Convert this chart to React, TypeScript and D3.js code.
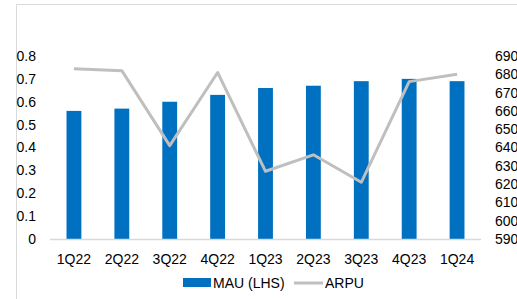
import React from "react";
import * as d3 from "d3";

const quarters = ["1Q22", "2Q22", "3Q22", "4Q22", "1Q23", "2Q23", "3Q23", "4Q23", "1Q24"];
const mau = [0.56, 0.57, 0.6, 0.63, 0.66, 0.67, 0.69, 0.7, 0.69];
const arpu = [683, 682, 641, 681, 627, 636, 621, 676, 680];
const leftTicks = [0, 0.1, 0.2, 0.3, 0.4, 0.5, 0.6, 0.7, 0.8];
const rightTicks = [590, 600, 610, 620, 630, 640, 650, 660, 670, 680, 690];

const font = "'Liberation Sans Narrow', 'Arial Narrow', 'Liberation Sans', sans-serif";

export default function App() {
  const width = 517;
  const height = 299;
  const margin = { top: 56, right: 36, bottom: 60, left: 50 };
  const x0 = margin.left;
  const x1 = width - margin.right;
  const yTop = margin.top;
  const yBot = height - margin.bottom;

  const x = d3.scaleBand<string>().domain(quarters).range([x0, x1]).paddingInner(0.69).paddingOuter(0.345);
  const yL = d3.scaleLinear().domain([0, 0.8]).range([yBot, yTop]);
  const yR = d3.scaleLinear().domain([590, 690]).range([yBot, yTop]);

  const line = d3
    .line<number>()
    .x((_, i) => (x(quarters[i]) as number) + x.bandwidth() / 2)
    .y((d) => yR(d));

  return (
    <svg width={width} height={height} style={{ position: "absolute", left: 0, top: 0, fontFamily: font }}>
      <rect width={width} height={height} fill="#fff" />
      <line x1={16} x2={width} y1={4.5} y2={4.5} stroke="#d9d9d9" />
      <line x1={16.5} x2={16.5} y1={4} y2={height} stroke="#d9d9d9" />

      {mau.map((v, i) => (
        <rect
          key={quarters[i]}
          x={x(quarters[i])}
          y={yL(v)}
          width={x.bandwidth()}
          height={yL(0) - yL(v)}
          fill="#0070c0"
        />
      ))}

      <line x1={x0} x2={x1} y1={yBot + 0.5} y2={yBot + 0.5} stroke="#d9d9d9" strokeWidth={1.5} />

      <path d={line(arpu) || ""} fill="none" stroke="#bfbfbf" strokeWidth={3} strokeLinejoin="round" />

      {leftTicks.map((t) => (
        <text key={t} x={36} y={yL(t)} dy="0.35em" textAnchor="end" fontSize={14} fill="#000">
          {t === 0 ? "0" : t.toFixed(1)}
        </text>
      ))}
      {rightTicks.map((t) => (
        <text key={t} x={495} y={yR(t)} dy="0.35em" textAnchor="start" fontSize={14} fill="#000">
          {t}
        </text>
      ))}
      {quarters.map((q) => (
        <text
          key={q}
          x={(x(q) as number) + x.bandwidth() / 2}
          y={259}
          dy="0.35em"
          textAnchor="middle"
          fontSize={14}
          fill="#000"
        >
          {q}
        </text>
      ))}

      <rect x={183} y={278} width={28} height={9} fill="#0070c0" />
      <text x={213} y={283} dy="0.35em" fontSize={14} fill="#000">
        MAU (LHS)
      </text>
      <line x1={294} x2={323} y1={283} y2={283} stroke="#bfbfbf" strokeWidth={3} />
      <text x={325} y={283} dy="0.35em" fontSize={14} fill="#000">
        ARPU
      </text>
    </svg>
  );
}
